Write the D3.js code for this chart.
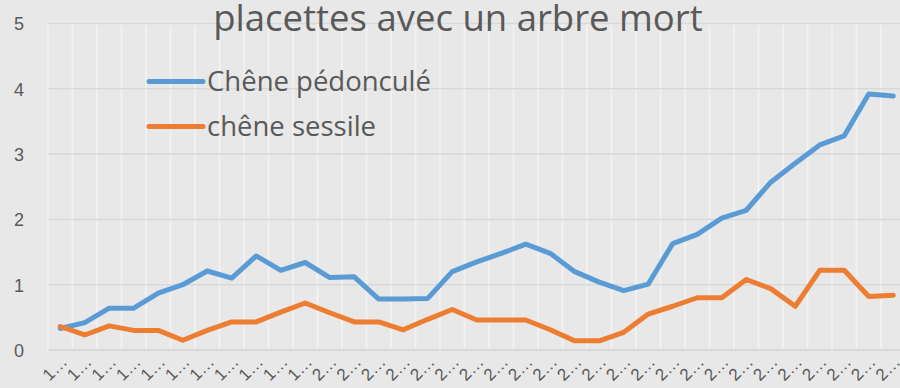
<!DOCTYPE html>
<html>
<head>
<meta charset="utf-8">
<script src="https://cdn.jsdelivr.net/npm/d3@7"></script>
<style>
  html, body { margin: 0; padding: 0; background: #e8e8e8; overflow: hidden; }
  svg { display: block; font-family: "Open Sans", "Liberation Sans", sans-serif; }
</style>
</head>
<body>
<svg id="chart" width="900" height="388"></svg>
<script>
// Years of the survey (labels are shown truncated on the axis)
const years = d3.range(1989, 2024).map(String);

// Share of plots with a dead tree, per species
const pedoncule = [0.33, 0.42, 0.64, 0.64, 0.87, 1.00, 1.21, 1.10, 1.44, 1.22,
                   1.34, 1.11, 1.12, 0.78, 0.78, 0.79, 1.20, 1.35, 1.48, 1.62,
                   1.48, 1.20, 1.04, 0.91, 1.01, 1.63, 1.77, 2.02, 2.14, 2.57,
                   2.86, 3.14, 3.28, 3.92, 3.89];
const sessile   = [0.36, 0.23, 0.37, 0.30, 0.30, 0.15, 0.30, 0.43, 0.43, 0.58,
                   0.72, 0.57, 0.43, 0.43, 0.31, 0.47, 0.62, 0.46, 0.46, 0.46,
                   0.31, 0.14, 0.14, 0.27, 0.55, 0.67, 0.80, 0.80, 1.08, 0.94,
                   0.67, 1.22, 1.22, 0.82, 0.84];

const seriesNames = ["Chêne pédonculé", "chêne sessile"];
const seriesColors = ["#5b9bd5", "#ed7d31"];
const yTicks = [0, 1, 2, 3, 4, 5];
const title = "placettes avec un arbre mort";

const svg = d3.select("#chart");
const plotLeft = 48, plotTop = 23.5, plotBottom = 350;
const band = 24.5;
const plotRight = plotLeft + band * years.length;

const x = d3.scaleBand().domain(years).range([plotLeft, plotRight]).paddingInner(0).paddingOuter(0);
const y = d3.scaleLinear().domain([0, 5]).range([plotBottom, plotTop]);

// vertical gridlines on category boundaries
const g = svg.append("g");
g.selectAll("line.vgrid")
  .data(years.concat(["end"]))
  .join("line")
  .attr("x1", (d, i) => plotLeft + i * x.bandwidth())
  .attr("x2", (d, i) => plotLeft + i * x.bandwidth())
  .attr("y1", plotTop).attr("y2", plotBottom)
  .attr("stroke", "#f2f2f2").attr("stroke-width", 1.8);

// horizontal gridlines
g.selectAll("line.hgrid")
  .data(yTicks)
  .join("line")
  .attr("x1", plotLeft).attr("x2", plotRight)
  .attr("y1", d => y(d)).attr("y2", d => y(d))
  .attr("stroke", d => d === 0 ? "#d3d3d3" : "#d9d9d9").attr("stroke-width", 1.5);

// y axis labels
const yAxis = d3.axisLeft(y).tickValues(yTicks).tickSize(0).tickPadding(0).tickFormat(d3.format("d"));
const ya = svg.append("g").attr("transform", "translate(24,0)").call(yAxis);
ya.select(".domain").remove();
ya.selectAll("text").attr("font-size", 18).attr("fill", "#595959")
  .attr("text-anchor", "middle").attr("dy", "0.35em").attr("x", -5);

// x axis labels, truncated and rotated
const xAxis = d3.axisBottom(x).tickSize(0).tickPadding(0).tickFormat(d => d.charAt(0) + "…");
const xa = svg.append("g").attr("transform", `translate(0,${plotBottom})`).call(xAxis);
xa.select(".domain").remove();
xa.selectAll("text")
  .attr("font-size", 17).attr("fill", "#595959")
  .attr("text-anchor", "end")
  .attr("dy", 0)
  .attr("transform", "translate(8,13) rotate(-45)");

// series lines
const line = d3.line()
  .x((d, i) => x(years[i]) + x.bandwidth() / 2)
  .y(d => y(d));

[pedoncule, sessile].forEach((vals, k) => {
  svg.append("path")
    .datum(vals)
    .attr("d", line)
    .attr("fill", "none")
    .attr("stroke", seriesColors[k])
    .attr("stroke-width", 5)
    .attr("stroke-linejoin", "round")
    .attr("stroke-linecap", "round");
});

// title
svg.append("text")
  .attr("x", 458).attr("y", 31)
  .attr("text-anchor", "middle")
  .attr("font-size", 36.5)
  .attr("fill", "#595959")
  .text(title);

// legend
const legend = svg.append("g");
seriesNames.forEach((name, k) => {
  const ly = 81.5 + k * 45;
  legend.append("line")
    .attr("x1", 149).attr("x2", 203)
    .attr("y1", ly).attr("y2", ly)
    .attr("stroke", seriesColors[k]).attr("stroke-width", 5)
    .attr("stroke-linecap", "round");
  legend.append("text")
    .attr("x", 207).attr("y", ly).attr("dy", "0.36em")
    .attr("font-size", 27.5).attr("fill", "#595959")
    .text(name);
});
</script>
</body>
</html>
